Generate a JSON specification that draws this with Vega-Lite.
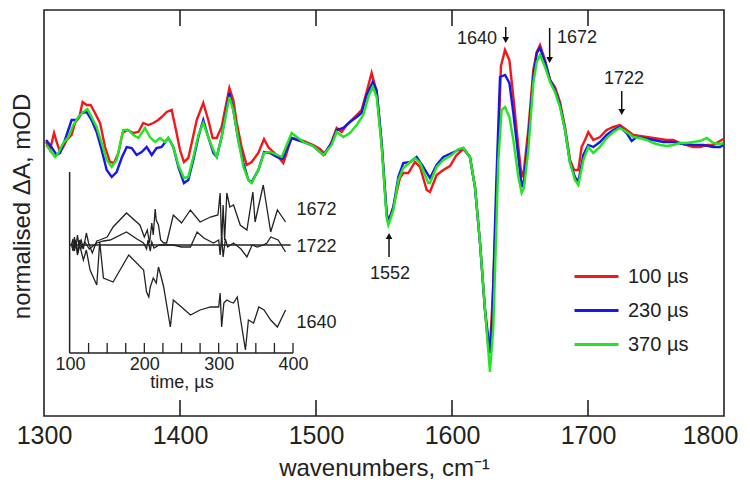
{
 "$schema": "https://vega.github.io/schema/vega-lite/v6.json",
 "width": 680, "height": 406,
 "autosize": {"type": "none"},
 "padding": {"left": 44, "top": 10, "right": 26, "bottom": 69},
 "config": {"view": {"stroke": "#222", "strokeWidth": 1.6}, "font": "Liberation Sans", "axis": {"grid": false}, "text": {"font": "Liberation Sans"}},
 "datasets": {
  "spectra": [
{"series":"100 µs","wn":1301.5,"dA":4},{"series":"100 µs","wn":1304.4,"dA":-4},{"series":"100 µs","wn":1307.4,"dA":13},{"series":"100 µs","wn":1309.3,"dA":4},{"series":"100 µs","wn":1311.8,"dA":-6},{"series":"100 µs","wn":1314.2,"dA":-1},{"series":"100 µs","wn":1316.7,"dA":6},{"series":"100 µs","wn":1320.3,"dA":11},{"series":"100 µs","wn":1322.8,"dA":23},{"series":"100 µs","wn":1326,"dA":29},{"series":"100 µs","wn":1328.4,"dA":44},{"series":"100 µs","wn":1331.4,"dA":41},{"series":"100 µs","wn":1334.3,"dA":41},{"series":"100 µs","wn":1337.5,"dA":33},{"series":"100 µs","wn":1341.2,"dA":23},{"series":"100 µs","wn":1344.9,"dA":-1},{"series":"100 µs","wn":1348.5,"dA":-16},{"series":"100 µs","wn":1351.5,"dA":-17},{"series":"100 µs","wn":1354.7,"dA":-7},{"series":"100 µs","wn":1357.8,"dA":13},{"series":"100 µs","wn":1361.3,"dA":16},{"series":"100 µs","wn":1365.7,"dA":13},{"series":"100 µs","wn":1369.4,"dA":14},{"series":"100 µs","wn":1373,"dA":23},{"series":"100 µs","wn":1376.7,"dA":21},{"series":"100 µs","wn":1380.4,"dA":23},{"series":"100 µs","wn":1384,"dA":26},{"series":"100 µs","wn":1386.5,"dA":29},{"series":"100 µs","wn":1390.2,"dA":34},{"series":"100 µs","wn":1393.9,"dA":36},{"series":"100 µs","wn":1397.5,"dA":13},{"series":"100 µs","wn":1400,"dA":-4},{"series":"100 µs","wn":1402.9,"dA":-16},{"series":"100 µs","wn":1406.1,"dA":-12},{"series":"100 µs","wn":1408.6,"dA":3},{"series":"100 µs","wn":1412.3,"dA":26},{"series":"100 µs","wn":1417.1,"dA":43},{"series":"100 µs","wn":1420.8,"dA":26},{"series":"100 µs","wn":1424,"dA":8},{"series":"100 µs","wn":1427,"dA":8},{"series":"100 µs","wn":1430.6,"dA":19},{"series":"100 µs","wn":1436.3,"dA":58},{"series":"100 µs","wn":1439.2,"dA":46},{"series":"100 µs","wn":1441.7,"dA":23},{"series":"100 µs","wn":1445.3,"dA":-1},{"series":"100 µs","wn":1449,"dA":-19},{"series":"100 µs","wn":1452.7,"dA":-16},{"series":"100 µs","wn":1457.6,"dA":-7},{"series":"100 µs","wn":1461.8,"dA":7},{"series":"100 µs","wn":1464.9,"dA":-1},{"series":"100 µs","wn":1468.6,"dA":-6},{"series":"100 µs","wn":1471,"dA":-9},{"series":"100 µs","wn":1476,"dA":-17},{"series":"100 µs","wn":1482,"dA":8},{"series":"100 µs","wn":1490.7,"dA":5},{"series":"100 µs","wn":1498,"dA":1},{"series":"100 µs","wn":1502.9,"dA":-3},{"series":"100 µs","wn":1506.6,"dA":-8},{"series":"100 µs","wn":1511.1,"dA":3},{"series":"100 µs","wn":1515.2,"dA":18},{"series":"100 µs","wn":1518.9,"dA":14},{"series":"100 µs","wn":1522.5,"dA":21},{"series":"100 µs","wn":1529.9,"dA":31},{"series":"100 µs","wn":1533.5,"dA":36},{"series":"100 µs","wn":1537.2,"dA":54},{"series":"100 µs","wn":1540.9,"dA":73},{"series":"100 µs","wn":1544.6,"dA":54},{"series":"100 µs","wn":1548.2,"dA":3},{"series":"100 µs","wn":1551.9,"dA":-67},{"series":"100 µs","wn":1553.1,"dA":-77},{"series":"100 µs","wn":1556.8,"dA":-61},{"series":"100 µs","wn":1561.7,"dA":-32},{"series":"100 µs","wn":1564.2,"dA":-27},{"series":"100 µs","wn":1567.9,"dA":-27},{"series":"100 µs","wn":1572.8,"dA":-16},{"series":"100 µs","wn":1576.5,"dA":-21},{"series":"100 µs","wn":1581.4,"dA":-44},{"series":"100 µs","wn":1583.8,"dA":-46},{"series":"100 µs","wn":1588.7,"dA":-29},{"series":"100 µs","wn":1593.6,"dA":-24},{"series":"100 µs","wn":1598.5,"dA":-20},{"series":"100 µs","wn":1603.4,"dA":-9},{"series":"100 µs","wn":1608.3,"dA":-3},{"series":"100 µs","wn":1613.2,"dA":-11},{"series":"100 µs","wn":1616.9,"dA":-41},{"series":"100 µs","wn":1620.6,"dA":-97},{"series":"100 µs","wn":1624.2,"dA":-164},{"series":"100 µs","wn":1626.7,"dA":-201},{"series":"100 µs","wn":1627.9,"dA":-201},{"series":"100 µs","wn":1630,"dA":-150},{"series":"100 µs","wn":1632.5,"dA":-60},{"series":"100 µs","wn":1634.5,"dA":20},{"series":"100 µs","wn":1636,"dA":80},{"series":"100 µs","wn":1639,"dA":96},{"series":"100 µs","wn":1642.2,"dA":86},{"series":"100 µs","wn":1645.1,"dA":49},{"series":"100 µs","wn":1648.8,"dA":-1},{"series":"100 µs","wn":1651.2,"dA":-31},{"series":"100 µs","wn":1652.9,"dA":-24},{"series":"100 µs","wn":1656.1,"dA":16},{"series":"100 µs","wn":1659.8,"dA":76},{"series":"100 µs","wn":1662.3,"dA":94},{"series":"100 µs","wn":1664.7,"dA":101},{"series":"100 µs","wn":1668.4,"dA":86},{"series":"100 µs","wn":1672.1,"dA":66},{"series":"100 µs","wn":1675.7,"dA":59},{"series":"100 µs","wn":1679.4,"dA":44},{"series":"100 µs","wn":1683.1,"dA":19},{"series":"100 µs","wn":1686.8,"dA":-14},{"series":"100 µs","wn":1689.7,"dA":-24},{"series":"100 µs","wn":1692.9,"dA":-24},{"series":"100 µs","wn":1695.3,"dA":-1},{"series":"100 µs","wn":1697.8,"dA":6},{"series":"100 µs","wn":1700.2,"dA":14},{"series":"100 µs","wn":1703.9,"dA":6},{"series":"100 µs","wn":1708.8,"dA":9},{"series":"100 µs","wn":1713.7,"dA":16},{"series":"100 µs","wn":1718.6,"dA":19},{"series":"100 µs","wn":1723.5,"dA":21},{"series":"100 µs","wn":1728.4,"dA":16},{"series":"100 µs","wn":1733.3,"dA":11},{"series":"100 µs","wn":1738.2,"dA":10},{"series":"100 µs","wn":1743.1,"dA":9},{"series":"100 µs","wn":1748,"dA":8},{"series":"100 µs","wn":1752.9,"dA":7},{"series":"100 µs","wn":1757.8,"dA":6},{"series":"100 µs","wn":1762.7,"dA":6},{"series":"100 µs","wn":1767.6,"dA":3},{"series":"100 µs","wn":1772.5,"dA":1},{"series":"100 µs","wn":1777.5,"dA":-1},{"series":"100 µs","wn":1782.4,"dA":-1},{"series":"100 µs","wn":1787.3,"dA":1},{"series":"100 µs","wn":1792.2,"dA":1},{"series":"100 µs","wn":1795.8,"dA":4},{"series":"100 µs","wn":1799.5,"dA":7},
{"series":"230 µs","wn":1301.5,"dA":6},{"series":"230 µs","wn":1304.4,"dA":1},{"series":"230 µs","wn":1309.3,"dA":-9},{"series":"230 µs","wn":1311.8,"dA":-7},{"series":"230 µs","wn":1315.4,"dA":6},{"series":"230 µs","wn":1320.3,"dA":26},{"series":"230 µs","wn":1324,"dA":26},{"series":"230 µs","wn":1327.7,"dA":33},{"series":"230 µs","wn":1331.4,"dA":34},{"series":"230 µs","wn":1335,"dA":26},{"series":"230 µs","wn":1338.7,"dA":14},{"series":"230 µs","wn":1342.4,"dA":-4},{"series":"230 µs","wn":1346.1,"dA":-24},{"series":"230 µs","wn":1349.8,"dA":-31},{"series":"230 µs","wn":1353.4,"dA":-26},{"series":"230 µs","wn":1357.1,"dA":-12},{"series":"230 µs","wn":1360.8,"dA":-1},{"series":"230 µs","wn":1364.5,"dA":-2},{"series":"230 µs","wn":1368.1,"dA":-9},{"series":"230 µs","wn":1371.8,"dA":-6},{"series":"230 µs","wn":1375.5,"dA":-1},{"series":"230 µs","wn":1379.2,"dA":-9},{"series":"230 µs","wn":1382.8,"dA":-2},{"series":"230 µs","wn":1386.5,"dA":-1},{"series":"230 µs","wn":1391.4,"dA":8},{"series":"230 µs","wn":1395.1,"dA":-1},{"series":"230 µs","wn":1398.8,"dA":-21},{"series":"230 µs","wn":1402.9,"dA":-37},{"series":"230 µs","wn":1406.1,"dA":-34},{"series":"230 µs","wn":1409.8,"dA":-14},{"series":"230 µs","wn":1413.5,"dA":9},{"series":"230 µs","wn":1417.1,"dA":26},{"series":"230 µs","wn":1420.8,"dA":9},{"series":"230 µs","wn":1424.5,"dA":-7},{"series":"230 µs","wn":1427,"dA":-11},{"series":"230 µs","wn":1430.6,"dA":9},{"series":"230 µs","wn":1436.3,"dA":53},{"series":"230 µs","wn":1439.2,"dA":36},{"series":"230 µs","wn":1442.9,"dA":6},{"series":"230 µs","wn":1446.6,"dA":-17},{"series":"230 µs","wn":1450.3,"dA":-34},{"series":"230 µs","wn":1452.7,"dA":-36},{"series":"230 µs","wn":1457.6,"dA":-24},{"series":"230 µs","wn":1461.8,"dA":-6},{"series":"230 µs","wn":1466.2,"dA":-7},{"series":"230 µs","wn":1471.1,"dA":-11},{"series":"230 µs","wn":1475.5,"dA":-13},{"series":"230 µs","wn":1482.1,"dA":8},{"series":"230 µs","wn":1490.7,"dA":4},{"series":"230 µs","wn":1498,"dA":0},{"series":"230 µs","wn":1505.4,"dA":-9},{"series":"230 µs","wn":1511.5,"dA":3},{"series":"230 µs","wn":1515.2,"dA":16},{"series":"230 µs","wn":1520.1,"dA":18},{"series":"230 µs","wn":1525,"dA":24},{"series":"230 µs","wn":1529.9,"dA":29},{"series":"230 µs","wn":1533.5,"dA":33},{"series":"230 µs","wn":1537.2,"dA":51},{"series":"230 µs","wn":1541.7,"dA":64},{"series":"230 µs","wn":1544.6,"dA":56},{"series":"230 µs","wn":1548.3,"dA":3},{"series":"230 µs","wn":1551.9,"dA":-67},{"series":"230 µs","wn":1553.2,"dA":-76},{"series":"230 µs","wn":1556.9,"dA":-61},{"series":"230 µs","wn":1560.5,"dA":-31},{"series":"230 µs","wn":1564.2,"dA":-17},{"series":"230 µs","wn":1569.1,"dA":-16},{"series":"230 µs","wn":1574,"dA":-11},{"series":"230 µs","wn":1578.9,"dA":-21},{"series":"230 µs","wn":1583.8,"dA":-32},{"series":"230 µs","wn":1588.7,"dA":-19},{"series":"230 µs","wn":1593.6,"dA":-11},{"series":"230 µs","wn":1599.8,"dA":-7},{"series":"230 µs","wn":1604.7,"dA":-4},{"series":"230 µs","wn":1608.3,"dA":-2},{"series":"230 µs","wn":1613.2,"dA":-11},{"series":"230 µs","wn":1616.9,"dA":-41},{"series":"230 µs","wn":1620.6,"dA":-97},{"series":"230 µs","wn":1624.3,"dA":-164},{"series":"230 µs","wn":1627.9,"dA":-207},{"series":"230 µs","wn":1629.5,"dA":-175},{"series":"230 µs","wn":1632.5,"dA":-40},{"series":"230 µs","wn":1635.3,"dA":69},{"series":"230 µs","wn":1639,"dA":71},{"series":"230 µs","wn":1642.2,"dA":63},{"series":"230 µs","wn":1645.1,"dA":33},{"series":"230 µs","wn":1648.8,"dA":-11},{"series":"230 µs","wn":1651.2,"dA":-41},{"series":"230 µs","wn":1652.9,"dA":-34},{"series":"230 µs","wn":1656.1,"dA":6},{"series":"230 µs","wn":1659.8,"dA":69},{"series":"230 µs","wn":1662.3,"dA":93},{"series":"230 µs","wn":1664.7,"dA":98},{"series":"230 µs","wn":1668.4,"dA":84},{"series":"230 µs","wn":1672.1,"dA":66},{"series":"230 µs","wn":1675.7,"dA":56},{"series":"230 µs","wn":1679.4,"dA":41},{"series":"230 µs","wn":1683.1,"dA":16},{"series":"230 µs","wn":1686.8,"dA":-17},{"series":"230 µs","wn":1690.4,"dA":-31},{"series":"230 µs","wn":1692.9,"dA":-36},{"series":"230 µs","wn":1696.6,"dA":-9},{"series":"230 µs","wn":1700.2,"dA":1},{"series":"230 µs","wn":1703.9,"dA":-1},{"series":"230 µs","wn":1708.8,"dA":4},{"series":"230 µs","wn":1713.7,"dA":11},{"series":"230 µs","wn":1718.6,"dA":16},{"series":"230 µs","wn":1723.5,"dA":19},{"series":"230 µs","wn":1728.4,"dA":13},{"series":"230 µs","wn":1732.1,"dA":5},{"series":"230 µs","wn":1735.8,"dA":9},{"series":"230 µs","wn":1740.7,"dA":8},{"series":"230 µs","wn":1748,"dA":6},{"series":"230 µs","wn":1755.4,"dA":4},{"series":"230 µs","wn":1762.7,"dA":4},{"series":"230 µs","wn":1770.1,"dA":2},{"series":"230 µs","wn":1777.5,"dA":1},{"series":"230 µs","wn":1784.8,"dA":1},{"series":"230 µs","wn":1792.2,"dA":-1},{"series":"230 µs","wn":1797.1,"dA":-1},{"series":"230 µs","wn":1799.5,"dA":1},
{"series":"370 µs","wn":1301.5,"dA":1},{"series":"370 µs","wn":1304.4,"dA":-4},{"series":"370 µs","wn":1308.1,"dA":-11},{"series":"370 µs","wn":1310.5,"dA":-7},{"series":"370 µs","wn":1314.2,"dA":3},{"series":"370 µs","wn":1317.9,"dA":9},{"series":"370 µs","wn":1321.6,"dA":21},{"series":"370 µs","wn":1325.3,"dA":29},{"series":"370 µs","wn":1328.9,"dA":34},{"series":"370 µs","wn":1331.9,"dA":37},{"series":"370 µs","wn":1335,"dA":29},{"series":"370 µs","wn":1338.7,"dA":19},{"series":"370 µs","wn":1342.4,"dA":3},{"series":"370 µs","wn":1346.1,"dA":-14},{"series":"370 µs","wn":1349.8,"dA":-21},{"series":"370 µs","wn":1353.4,"dA":-14},{"series":"370 µs","wn":1358.3,"dA":16},{"series":"370 µs","wn":1362,"dA":16},{"series":"370 µs","wn":1365.7,"dA":11},{"series":"370 µs","wn":1369.4,"dA":8},{"series":"370 µs","wn":1374.3,"dA":18},{"series":"370 µs","wn":1377.9,"dA":9},{"series":"370 µs","wn":1381.6,"dA":4},{"series":"370 µs","wn":1385.3,"dA":8},{"series":"370 µs","wn":1389,"dA":4},{"series":"370 µs","wn":1391.4,"dA":8},{"series":"370 µs","wn":1395.1,"dA":-1},{"series":"370 µs","wn":1398.8,"dA":-19},{"series":"370 µs","wn":1402.9,"dA":-32},{"series":"370 µs","wn":1406.1,"dA":-31},{"series":"370 µs","wn":1409.8,"dA":-11},{"series":"370 µs","wn":1413.5,"dA":11},{"series":"370 µs","wn":1417.1,"dA":23},{"series":"370 µs","wn":1420.8,"dA":9},{"series":"370 µs","wn":1424.5,"dA":-4},{"series":"370 µs","wn":1427,"dA":-11},{"series":"370 µs","wn":1430.6,"dA":9},{"series":"370 µs","wn":1436.3,"dA":49},{"series":"370 µs","wn":1439.2,"dA":36},{"series":"370 µs","wn":1442.9,"dA":6},{"series":"370 µs","wn":1446.6,"dA":-21},{"series":"370 µs","wn":1450.3,"dA":-34},{"series":"370 µs","wn":1452.7,"dA":-37},{"series":"370 µs","wn":1457.6,"dA":-24},{"series":"370 µs","wn":1461.8,"dA":-7},{"series":"370 µs","wn":1466.2,"dA":-6},{"series":"370 µs","wn":1470,"dA":-8},{"series":"370 µs","wn":1474.8,"dA":-11},{"series":"370 µs","wn":1482.1,"dA":13},{"series":"370 µs","wn":1490.7,"dA":4},{"series":"370 µs","wn":1498,"dA":0},{"series":"370 µs","wn":1505.4,"dA":-9},{"series":"370 µs","wn":1511.5,"dA":1},{"series":"370 µs","wn":1515.2,"dA":14},{"series":"370 µs","wn":1520.1,"dA":9},{"series":"370 µs","wn":1525,"dA":13},{"series":"370 µs","wn":1529.9,"dA":21},{"series":"370 µs","wn":1534.8,"dA":31},{"series":"370 µs","wn":1538.5,"dA":49},{"series":"370 µs","wn":1541.7,"dA":59},{"series":"370 µs","wn":1544.6,"dA":49},{"series":"370 µs","wn":1548.3,"dA":-1},{"series":"370 µs","wn":1551.9,"dA":-71},{"series":"370 µs","wn":1553.2,"dA":-79},{"series":"370 µs","wn":1556.9,"dA":-64},{"series":"370 µs","wn":1560.5,"dA":-34},{"series":"370 µs","wn":1564.2,"dA":-22},{"series":"370 µs","wn":1569.1,"dA":-16},{"series":"370 µs","wn":1572.8,"dA":-12},{"series":"370 µs","wn":1576.5,"dA":-17},{"series":"370 µs","wn":1582.6,"dA":-37},{"series":"370 µs","wn":1583.8,"dA":-37},{"series":"370 µs","wn":1588.7,"dA":-21},{"series":"370 µs","wn":1593.6,"dA":-14},{"series":"370 µs","wn":1599.8,"dA":-9},{"series":"370 µs","wn":1604.7,"dA":-3},{"series":"370 µs","wn":1608.3,"dA":-2},{"series":"370 µs","wn":1613.2,"dA":-11},{"series":"370 µs","wn":1616.9,"dA":-41},{"series":"370 µs","wn":1620.6,"dA":-97},{"series":"370 µs","wn":1624.3,"dA":-164},{"series":"370 µs","wn":1627.9,"dA":-226},{"series":"370 µs","wn":1630.4,"dA":-181},{"series":"370 µs","wn":1634.1,"dA":-14},{"series":"370 µs","wn":1636.5,"dA":36},{"series":"370 µs","wn":1639,"dA":39},{"series":"370 µs","wn":1642.2,"dA":29},{"series":"370 µs","wn":1645.1,"dA":6},{"series":"370 µs","wn":1648.8,"dA":-31},{"series":"370 µs","wn":1651.2,"dA":-47},{"series":"370 µs","wn":1652.9,"dA":-42},{"series":"370 µs","wn":1656.1,"dA":-4},{"series":"370 µs","wn":1659.8,"dA":63},{"series":"370 µs","wn":1662.3,"dA":84},{"series":"370 µs","wn":1664.7,"dA":91},{"series":"370 µs","wn":1668.4,"dA":79},{"series":"370 µs","wn":1672.1,"dA":64},{"series":"370 µs","wn":1675.7,"dA":54},{"series":"370 µs","wn":1679.4,"dA":39},{"series":"370 µs","wn":1683.1,"dA":16},{"series":"370 µs","wn":1686.8,"dA":-17},{"series":"370 µs","wn":1690.4,"dA":-34},{"series":"370 µs","wn":1692.9,"dA":-39},{"series":"370 µs","wn":1696.6,"dA":-14},{"series":"370 µs","wn":1700.2,"dA":-1},{"series":"370 µs","wn":1703.9,"dA":-7},{"series":"370 µs","wn":1708.8,"dA":-1},{"series":"370 µs","wn":1713.7,"dA":8},{"series":"370 µs","wn":1718.6,"dA":14},{"series":"370 µs","wn":1723.5,"dA":18},{"series":"370 µs","wn":1728.4,"dA":14},{"series":"370 µs","wn":1733.3,"dA":9},{"series":"370 µs","wn":1738.2,"dA":8},{"series":"370 µs","wn":1743.1,"dA":6},{"series":"370 µs","wn":1748,"dA":3},{"series":"370 µs","wn":1752.9,"dA":1},{"series":"370 µs","wn":1757.8,"dA":0},{"series":"370 µs","wn":1762.7,"dA":1},{"series":"370 µs","wn":1767.6,"dA":3},{"series":"370 µs","wn":1772.5,"dA":3},{"series":"370 µs","wn":1777.5,"dA":4},{"series":"370 µs","wn":1782.4,"dA":5},{"series":"370 µs","wn":1787.3,"dA":8},{"series":"370 µs","wn":1792.2,"dA":3},{"series":"370 µs","wn":1797.1,"dA":2},{"series":"370 µs","wn":1799.5,"dA":3}
  ],
  "inset": [
{"trace":"1672","time":102,"v":2},{"trace":"1672","time":104,"v":-5},{"trace":"1672","time":106,"v":8},{"trace":"1672","time":108,"v":-3},{"trace":"1672","time":110,"v":10},{"trace":"1672","time":112,"v":0},{"trace":"1672","time":115,"v":5},{"trace":"1672","time":118,"v":-4},{"trace":"1672","time":122,"v":12},{"trace":"1672","time":125,"v":2},{"trace":"1672","time":130,"v":-8},{"trace":"1672","time":136,"v":4},{"trace":"1672","time":140,"v":5},{"trace":"1672","time":150,"v":8},{"trace":"1672","time":158,"v":18},{"trace":"1672","time":176,"v":32},{"trace":"1672","time":194,"v":20},{"trace":"1672","time":200,"v":8},{"trace":"1672","time":204,"v":15},{"trace":"1672","time":207,"v":2},{"trace":"1672","time":210,"v":22},{"trace":"1672","time":212,"v":10},{"trace":"1672","time":214.6,"v":36},{"trace":"1672","time":216,"v":25},{"trace":"1672","time":219,"v":20},{"trace":"1672","time":222,"v":5},{"trace":"1672","time":226,"v":2},{"trace":"1672","time":230,"v":2},{"trace":"1672","time":239,"v":30},{"trace":"1672","time":250,"v":22},{"trace":"1672","time":262,"v":35},{"trace":"1672","time":275,"v":23},{"trace":"1672","time":289,"v":28},{"trace":"1672","time":299,"v":30},{"trace":"1672","time":302,"v":52},{"trace":"1672","time":304,"v":0},{"trace":"1672","time":306,"v":40},{"trace":"1672","time":308,"v":5},{"trace":"1672","time":311,"v":52},{"trace":"1672","time":315,"v":38},{"trace":"1672","time":320,"v":40},{"trace":"1672","time":329,"v":20},{"trace":"1672","time":338,"v":15},{"trace":"1672","time":346,"v":53},{"trace":"1672","time":349,"v":23},{"trace":"1672","time":360,"v":60},{"trace":"1672","time":370,"v":13},{"trace":"1672","time":379,"v":35},{"trace":"1672","time":390,"v":23},
{"trace":"1722","time":102,"v":0},{"trace":"1722","time":104,"v":6},{"trace":"1722","time":106,"v":-6},{"trace":"1722","time":108,"v":4},{"trace":"1722","time":111,"v":-8},{"trace":"1722","time":113,"v":5},{"trace":"1722","time":116,"v":-3},{"trace":"1722","time":120,"v":3},{"trace":"1722","time":126,"v":-4},{"trace":"1722","time":136,"v":2},{"trace":"1722","time":145,"v":4},{"trace":"1722","time":154,"v":5},{"trace":"1722","time":176,"v":13},{"trace":"1722","time":190,"v":6},{"trace":"1722","time":199,"v":2},{"trace":"1722","time":203,"v":-4},{"trace":"1722","time":205,"v":5},{"trace":"1722","time":208,"v":-6},{"trace":"1722","time":210,"v":3},{"trace":"1722","time":213,"v":-3},{"trace":"1722","time":220,"v":0},{"trace":"1722","time":239,"v":0},{"trace":"1722","time":250,"v":-2},{"trace":"1722","time":262,"v":-2},{"trace":"1722","time":271,"v":13},{"trace":"1722","time":280,"v":7},{"trace":"1722","time":293,"v":2},{"trace":"1722","time":300,"v":5},{"trace":"1722","time":302,"v":-10},{"trace":"1722","time":304,"v":8},{"trace":"1722","time":306,"v":-12},{"trace":"1722","time":309,"v":6},{"trace":"1722","time":312,"v":-2},{"trace":"1722","time":320,"v":2},{"trace":"1722","time":330,"v":-4},{"trace":"1722","time":338,"v":-12},{"trace":"1722","time":345,"v":0},{"trace":"1722","time":352,"v":-2},{"trace":"1722","time":360,"v":0},{"trace":"1722","time":365,"v":2},{"trace":"1722","time":370,"v":8},{"trace":"1722","time":380,"v":5},{"trace":"1722","time":390,"v":-7},
{"trace":"1640","time":102,"v":2},{"trace":"1640","time":104,"v":-6},{"trace":"1640","time":107,"v":5},{"trace":"1640","time":110,"v":-10},{"trace":"1640","time":113,"v":0},{"trace":"1640","time":118,"v":-15},{"trace":"1640","time":122,"v":-5},{"trace":"1640","time":127,"v":-25},{"trace":"1640","time":136,"v":-40},{"trace":"1640","time":140,"v":3},{"trace":"1640","time":145,"v":-33},{"trace":"1640","time":158,"v":-37},{"trace":"1640","time":179,"v":-10},{"trace":"1640","time":199,"v":-25},{"trace":"1640","time":203,"v":-47},{"trace":"1640","time":206,"v":-52},{"trace":"1640","time":208,"v":-42},{"trace":"1640","time":212,"v":-33},{"trace":"1640","time":216,"v":-38},{"trace":"1640","time":219,"v":-22},{"trace":"1640","time":222,"v":-30},{"trace":"1640","time":226,"v":-42},{"trace":"1640","time":235,"v":-82},{"trace":"1640","time":239,"v":-55},{"trace":"1640","time":250,"v":-62},{"trace":"1640","time":262,"v":-70},{"trace":"1640","time":275,"v":-65},{"trace":"1640","time":289,"v":-62},{"trace":"1640","time":300,"v":-62},{"trace":"1640","time":302,"v":-48},{"trace":"1640","time":304,"v":-82},{"trace":"1640","time":307,"v":-58},{"trace":"1640","time":311,"v":-55},{"trace":"1640","time":316,"v":-57},{"trace":"1640","time":320,"v":-58},{"trace":"1640","time":325,"v":-52},{"trace":"1640","time":329,"v":-72},{"trace":"1640","time":336,"v":-105},{"trace":"1640","time":340,"v":-75},{"trace":"1640","time":347,"v":-78},{"trace":"1640","time":354,"v":-62},{"trace":"1640","time":361,"v":-65},{"trace":"1640","time":370,"v":-75},{"trace":"1640","time":379,"v":-82},{"trace":"1640","time":390,"v":-65}
  ],
  "insetLabels": [{"trace":"1672","time":404.6,"v":35},{"trace":"1722","time":404.6,"v":-2},{"trace":"1640","time":404.6,"v":-78}],
  "mainTicks": [{"wn":1400},{"wn":1500},{"wn":1600},{"wn":1700}],
  "insetTicks": [{"time":125},{"time":150},{"time":175},{"time":200},{"time":225},{"time":250},{"time":275},{"time":300},{"time":325},{"time":350},{"time":375},{"time":400}],
  "notes": [{"label":"1640","wn":1618.4,"dA":107},{"label":"1672","wn":1691.9,"dA":108},{"label":"1722","wn":1726.5,"dA":67},{"label":"1552","wn":1554.4,"dA":-128}],
  "arrows": [{"label":"1640","wn":1639.5,"from":119,"head":106,"dir":"down"},{"label":"1672","wn":1671.8,"from":118,"head":86,"dir":"down"},{"label":"1722","wn":1724.8,"from":55,"head":34,"dir":"down"},{"label":"1552","wn":1553.7,"from":-111,"head":-90,"dir":"up"}],
  "insetFrame": [{"part":"zero","t1":100,"t2":397,"v1":0,"v2":0},{"part":"xaxis","t1":99.5,"t2":400,"v1":-108,"v2":-108},{"part":"yaxis","t1":99.5,"t2":99.5,"v1":-108,"v2":73}]
 },
 "layer": [
  {
   "layer": [
    {
     "data": {"name": "spectra"},
     "mark": {"type": "line", "strokeWidth": 2.4},
     "encoding": {
      "x": {"field": "wn", "type": "quantitative", "scale": {"domain": [1300, 1800], "nice": false, "zero": false},
            "axis": {"title": "wavenumbers, cm⁻¹", "values": [1300, 1400, 1500, 1600, 1700, 1800], "format": "d", "ticks": false, "domain": false, "labelFlush": false,
                     "labelFontSize": 25, "labelPadding": 7, "labelColor": "#222", "labelOffset": {"condition": {"test": "datum.value === 1800", "value": -14}, "value": 0},
                     "titleFontSize": 24, "titleFontWeight": "normal", "titleColor": "#222", "titlePadding": 8}},
      "y": {"field": "dA", "type": "quantitative", "scale": {"domain": [-270, 136], "nice": false, "zero": false},
            "axis": {"title": "normalised ΔA, mOD", "labels": false, "ticks": false, "domain": false, "titleFontSize": 24, "titleFontWeight": "normal", "titleColor": "#222", "titlePadding": 10, "titleY": 196}},
      "color": {"field": "series", "type": "nominal", "scale": {"domain": ["100 µs", "230 µs", "370 µs"], "range": ["#f01818", "#1818e6", "#22e622"]},
                "legend": {"orient": "none", "legendX": 529, "legendY": 243, "title": null, "symbolType": "stroke", "symbolSize": 1936, "symbolStrokeWidth": 3, "labelFontSize": 20, "labelOffset": 8, "rowPadding": 0, "padding": 0, "labelColor": "#222"}}
     }
    },
    {
     "mark": {"type": "rule", "color": "#222", "strokeWidth": 1.6},
     "encoding": {"y": {"datum": 0, "type": "quantitative", "scale": {"domain": [-270, 136], "nice": false, "zero": false}}}
    },
    {
     "data": {"name": "mainTicks"},
     "mark": {"type": "rule", "color": "#222", "strokeWidth": 1.6},
     "encoding": {"x": {"field": "wn", "type": "quantitative", "scale": {"domain": [1300, 1800], "nice": false, "zero": false}},
                  "y": {"datum": -270, "type": "quantitative", "scale": {"domain": [-270, 136], "nice": false, "zero": false}}, "y2": {"datum": -254}}
    },
    {
     "data": {"name": "mainTicks"},
     "mark": {"type": "rule", "color": "#222", "strokeWidth": 1.6},
     "encoding": {"x": {"field": "wn", "type": "quantitative"},
                  "y": {"datum": 136, "type": "quantitative"}, "y2": {"datum": 120}}
    },
    {
     "data": {"name": "notes"},
     "mark": {"type": "text", "fontSize": 18, "color": "#222", "align": "center", "baseline": "middle"},
     "encoding": {"x": {"field": "wn", "type": "quantitative"}, "y": {"field": "dA", "type": "quantitative"}, "text": {"field": "label"}}
    },
    {
     "data": {"name": "arrows"},
     "mark": {"type": "rule", "color": "#111", "strokeWidth": 1.5},
     "encoding": {"x": {"field": "wn", "type": "quantitative"}, "y": {"field": "from", "type": "quantitative"}, "y2": {"field": "head"}}
    },
    {
     "data": {"name": "arrows"},
     "mark": {"type": "point", "filled": true, "color": "#111", "size": 45, "opacity": 1},
     "encoding": {"x": {"field": "wn", "type": "quantitative"}, "y": {"field": "head", "type": "quantitative"},
                  "shape": {"field": "dir", "type": "nominal", "scale": {"domain": ["down", "up"], "range": ["triangle-down", "triangle-up"]}, "legend": null}}
    }
   ]
  },
  {
   "layer": [
    {
     "data": {"name": "inset"},
     "mark": {"type": "line", "color": "#222", "strokeWidth": 1.3},
     "encoding": {
      "x": {"field": "time", "type": "quantitative", "scale": {"domain": [100, 400], "range": [26, 249], "nice": false, "zero": false},
            "axis": {"orient": "bottom", "offset": -63, "values": [100, 200, 300, 400], "format": "d", "ticks": false, "domain": false, "labelFlush": false,
                     "labelFontSize": 18, "labelPadding": 2, "labelColor": "#222", "title": "time, µs", "titleFontSize": 18, "titleFontWeight": "normal", "titleColor": "#222", "titlePadding": 0}},
      "y": {"field": "v", "type": "quantitative", "scale": {"domain": [-108, 73], "range": [343, 162], "nice": false, "zero": false}, "axis": null},
      "detail": {"field": "trace"}
     }
    },
    {
     "data": {"name": "insetFrame"},
     "mark": {"type": "rule", "color": "#222", "strokeWidth": 1.5},
     "encoding": {"x": {"field": "t1", "type": "quantitative", "scale": {"domain": [100, 400], "range": [26, 249], "nice": false, "zero": false}}, "x2": {"field": "t2"},
                  "y": {"field": "v1", "type": "quantitative", "scale": {"domain": [-108, 73], "range": [343, 162], "nice": false, "zero": false}}, "y2": {"field": "v2"}}
    },
    {
     "data": {"name": "insetTicks"},
     "mark": {"type": "rule", "color": "#222", "strokeWidth": 1.3},
     "encoding": {"x": {"field": "time", "type": "quantitative"}, "y": {"datum": -108, "type": "quantitative"}, "y2": {"datum": -98}}
    },
    {
     "data": {"name": "insetLabels"},
     "mark": {"type": "text", "fontSize": 18, "color": "#222", "align": "left", "baseline": "middle"},
     "encoding": {"x": {"field": "time", "type": "quantitative"}, "y": {"field": "v", "type": "quantitative"}, "text": {"field": "trace"}}
    }
   ]
  }
 ],
 "resolve": {"scale": {"x": "independent", "y": "independent"}}
}
